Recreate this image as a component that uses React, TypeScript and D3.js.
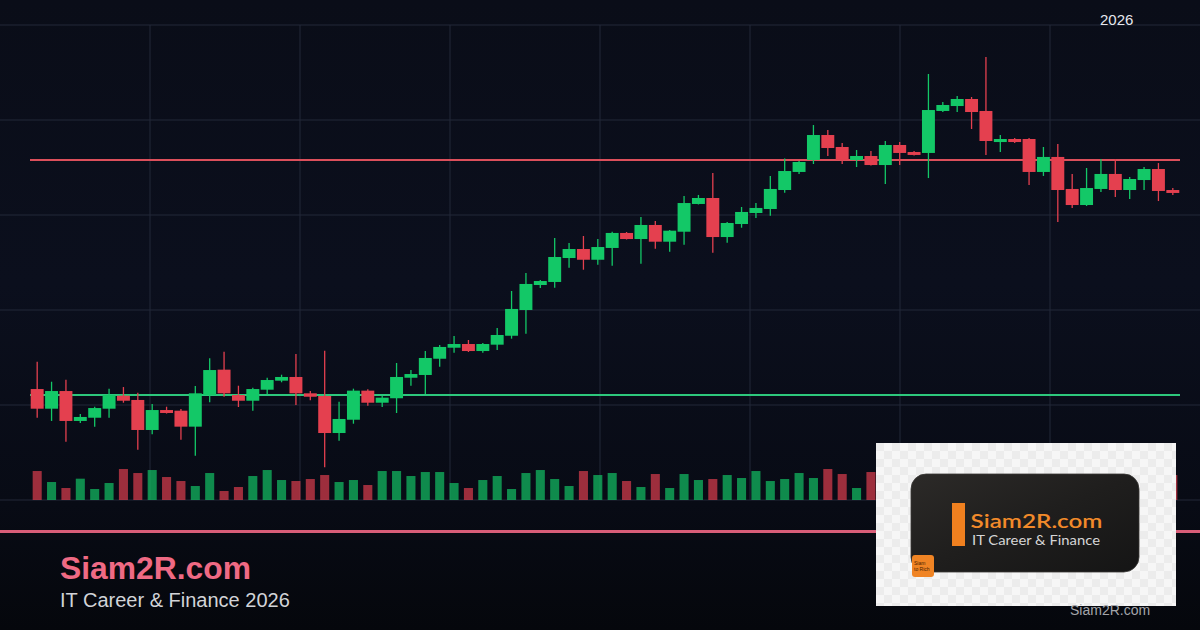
import React, { useEffect } from "react";
import * as d3 from "d3";

// ---- Data ----
const opens = [101.68, 99.61, 101.47, 98.32, 98.66, 99.61, 100.98, 100.53, 97.37, 99.47,
  99.40, 97.72, 101.05, 103.72, 101.05, 100.45, 101.61, 102.56, 102.95, 101.23,
  100.95, 97.05, 98.45, 101.51, 100.24, 100.71, 102.87, 103.16, 104.87, 106.03,
  106.42, 105.68, 106.35, 107.29, 110.00, 112.63, 112.95, 115.47, 116.42, 115.29,
  116.53, 118.11, 117.47, 118.95, 117.19, 118.24, 121.16, 121.79, 117.68, 119.05,
  120.21, 120.63, 122.63, 124.53, 125.79, 128.42, 127.16, 125.79, 126.21, 125.26,
  127.37, 126.63, 126.53, 130.95, 131.47, 132.21, 130.95, 127.68, 128.00, 128.00,
  124.53, 126.11, 122.74, 121.05, 122.74, 124.32, 122.63, 123.68, 124.84, 122.63];
const highs = [104.56, 102.45, 102.66, 99.05, 99.82, 101.72, 101.89, 101.29, 100.11, 99.82,
  99.58, 102.00, 104.92, 105.61, 102.03, 101.82, 102.87, 103.19, 105.37, 101.47,
  105.72, 100.35, 101.72, 101.65, 100.98, 104.42, 103.68, 105.68, 106.32, 107.26,
  106.84, 106.53, 108.11, 112.00, 113.89, 113.16, 117.58, 117.05, 117.79, 117.47,
  118.24, 118.21, 119.79, 119.37, 118.42, 122.00, 122.11, 124.42, 119.26, 120.84,
  121.26, 124.11, 125.95, 125.68, 129.47, 128.95, 127.58, 126.84, 126.74, 127.79,
  127.68, 126.74, 134.84, 131.89, 132.53, 132.42, 136.63, 128.42, 128.11, 128.11,
  127.16, 127.47, 124.32, 124.95, 125.89, 125.89, 124.00, 125.05, 125.47, 122.84];
const lows = [98.66, 98.32, 96.14, 98.11, 97.72, 98.66, 100.24, 95.29, 96.92, 99.10,
  96.35, 94.66, 100.28, 100.87, 99.79, 99.40, 101.13, 102.39, 100.00, 100.49,
  93.44, 96.24, 98.03, 99.93, 99.79, 99.16, 102.03, 101.16, 104.03, 105.51,
  105.58, 105.51, 105.79, 106.98, 107.51, 112.32, 112.35, 114.45, 114.24, 114.77,
  114.66, 117.42, 114.87, 116.45, 116.14, 116.87, 121.11, 116.03, 117.08, 118.66,
  119.68, 119.93, 122.35, 124.32, 125.37, 126.21, 125.37, 125.05, 125.21, 123.26,
  125.26, 126.26, 123.89, 130.84, 130.84, 129.05, 126.32, 126.63, 127.58, 123.16,
  124.11, 119.26, 120.74, 120.95, 122.42, 121.89, 121.68, 122.63, 121.47, 122.11];
const closes = [99.61, 101.47, 98.32, 98.74, 99.68, 101.05, 100.45, 97.37, 99.47, 99.16,
  97.72, 101.23, 103.68, 101.23, 100.45, 101.68, 102.63, 102.95, 101.23, 100.87,
  97.05, 98.53, 101.51, 100.24, 100.77, 102.95, 103.26, 104.95, 106.11, 106.42,
  105.68, 106.42, 107.37, 110.11, 112.74, 113.05, 115.58, 116.42, 115.29, 116.63,
  118.11, 117.47, 118.95, 117.19, 118.35, 121.26, 121.79, 117.68, 119.16, 120.32,
  120.74, 122.74, 124.63, 125.58, 128.42, 127.05, 125.79, 126.21, 125.26, 127.37,
  126.53, 126.32, 131.05, 131.58, 132.21, 130.84, 127.79, 128.00, 127.68, 124.53,
  126.11, 122.63, 121.05, 122.84, 124.32, 122.63, 123.79, 124.84, 122.53, 122.32];
const volumes = [87, 54, 36, 64, 33, 51, 93, 81, 90, 69,
  57, 42, 81, 27, 39, 72, 90, 60, 57, 63,
  75, 54, 60, 45, 87, 87, 72, 84, 84, 51,
  36, 60, 72, 33, 81, 90, 63, 42, 87, 75,
  81, 57, 39, 78, 36, 78, 60, 63, 75, 66,
  87, 57, 63, 81, 66, 93, 78, 36, 84, 66,
  48, 54, 96, 60, 45, 57, 90, 51, 42, 72,
  63, 93, 69, 54, 60, 75, 48, 57, 66, 75];
const supportLevel = [101.05];
const resistanceLevel = [125.79];
const priceTicks = [90, 100, 110, 120, 130, 140];
const yearLabel = ["2026"];

const W = 1200;
const H = 630;
const GREEN = "#13c867";
const RED = "#e4404f";

export default function App() {
  useEffect(() => {
    document.body.style.margin = "0";
    document.body.style.background = "#070910";
  }, []);

  const idx = d3.range(opens.length);
  const x = d3.scaleBand<number>().domain(idx).range([30, 1180]).paddingInner(0);
  const y = d3.scaleLinear().domain([90, 140]).range([500, 25]);
  const v = d3.scaleLinear().domain([0, 100]).range([500, 466.7]);
  const gx = d3.scaleLinear().domain([0, 8]).range([0, W]);

  const step = x.step();
  const bodyW = step * 0.9;
  const volW = step * 0.63;

  const cx = (i: number) => (x(i) as number) + x.bandwidth() / 2;

  return (
    <svg width={W} height={H} style={{ display: "block", position: "fixed", left: 0, top: 0 }}
      fontFamily="'Liberation Sans', Arial, sans-serif">
      <defs>
        <linearGradient id="bg" x1="0" y1="0" x2="0" y2="1">
          <stop offset="0" stopColor="#0a0d18" />
          <stop offset="0.45" stopColor="#0b0f1d" />
          <stop offset="0.8" stopColor="#080b15" />
          <stop offset="1" stopColor="#05070c" />
        </linearGradient>
        <pattern id="checker" width="16" height="16" patternUnits="userSpaceOnUse" x="876" y="443">
          <rect width="16" height="16" fill="#f6f6f6" />
          <rect width="8" height="8" fill="#ececec" />
          <rect x="8" y="8" width="8" height="8" fill="#ececec" />
        </pattern>
        <linearGradient id="card" x1="0" y1="0" x2="1" y2="1">
          <stop offset="0" stopColor="#2c2a28" />
          <stop offset="0.5" stopColor="#1f1e1d" />
          <stop offset="1" stopColor="#151515" />
        </linearGradient>
      </defs>
      <rect width={W} height={H} fill="url(#bg)" />

      {/* grid */}
      {priceTicks.map((t) => (
        <line key={"h" + t} x1={0} x2={W} y1={y(t)} y2={y(t)} stroke="#232839" strokeWidth={1} />
      ))}
      {d3.range(1, 8).map((k) => (
        <line key={"v" + k} x1={gx(k)} x2={gx(k)} y1={y(140)} y2={y(90)} stroke="#232839" strokeWidth={1} />
      ))}

      {/* volume */}
      {idx.map((i) => (
        <rect key={"vol" + i} x={cx(i) - volW / 2} y={v(volumes[i])} width={volW}
          height={v(0) - v(volumes[i])}
          fill={closes[i] >= opens[i] ? GREEN : RED} opacity={0.68} />
      ))}

      {/* support / resistance */}
      <line x1={30} x2={1180} y1={y(supportLevel[0])} y2={y(supportLevel[0])} stroke="#2dc77c" strokeWidth={2} />
      <line x1={30} x2={1180} y1={y(resistanceLevel[0])} y2={y(resistanceLevel[0])} stroke="#dc4f5b" strokeWidth={2} />

      {/* candles */}
      {idx.map((i) => {
        const up = closes[i] >= opens[i];
        const c = up ? GREEN : RED;
        const top = y(Math.max(opens[i], closes[i]));
        const bot = y(Math.min(opens[i], closes[i]));
        return (
          <g key={"c" + i}>
            <line x1={cx(i)} x2={cx(i)} y1={y(highs[i])} y2={y(lows[i])} stroke={c} strokeWidth={1.3} />
            <rect x={cx(i) - bodyW / 2} y={top} width={bodyW} height={Math.max(bot - top, 2)} fill={c} />
          </g>
        );
      })}

      {/* year label */}
      <text x={1100} y={25} fontSize={15} fill="#e6e8ee">{yearLabel[0]}</text>

      {/* separator */}
      <rect x={0} y={530} width={W} height={3} fill="#d85d78" />

      {/* branding */}
      <text x={60} y={579} fontSize={31} fontWeight="bold" fill="#ef6a84" textLength={191} lengthAdjust="spacingAndGlyphs">Siam2R.com</text>
      <text x={60} y={607} fontSize={20} fill="#d2d4d8">IT Career &amp; Finance 2026</text>

      {/* logo image */}
      <rect x={876} y={443} width={300} height={163} fill="url(#checker)" />
      <rect x={911} y={474} width={228} height={98} rx={15} fill="url(#card)" stroke="#3a3836" strokeWidth={0.8} />
      <rect x={952} y={503} width={13} height={43} fill="#f0801f" />
      <text x={970.5} y={528} fontSize={20} fontWeight="600" fill="#f28a2a"
        fontFamily="Lato, 'Open Sans', sans-serif" textLength={132} lengthAdjust="spacingAndGlyphs">Siam2R.com</text>
      <text x={972} y={545} fontSize={13} fill="#d6d6d6"
        fontFamily="Lato, 'Open Sans', sans-serif" textLength={128} lengthAdjust="spacingAndGlyphs">IT Career &amp; Finance</text>
      <rect x={912} y={555} width={22} height={22} rx={3} fill="#f08424" />
      <text x={914} y={565} fontSize={5} fill="#4a2200" fontFamily="'Liberation Sans', sans-serif">Siam</text>
      <text x={914} y={571} fontSize={5} fill="#4a2200" fontFamily="'Liberation Sans', sans-serif">to Rich</text>

      <text x={1070} y={615} fontSize={14} fill="#a3a5aa">Siam2R.com</text>
    </svg>
  );
}
